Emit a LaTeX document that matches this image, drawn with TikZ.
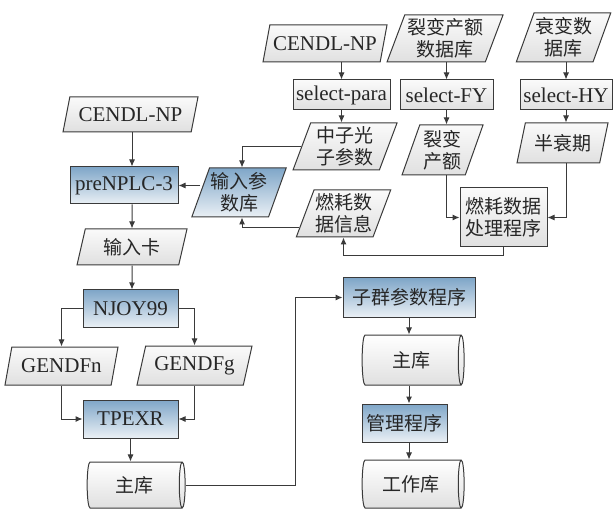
\documentclass[tikz,border=0pt]{standalone}
\usepackage{fontspec}
\setmainfont{Liberation Serif}
\newfontfamily\cjk{Noto Sans CJK SC}
\usetikzlibrary{shapes.geometric,arrows.meta,calc}
\definecolor{linec}{HTML}{3A3A3A}
\definecolor{grayt}{HTML}{FAFAFA}
\definecolor{grayb}{HTML}{E0E0E0}
\definecolor{bluet}{HTML}{7FA6C8}
\definecolor{blueb}{HTML}{EAF0F5}
\tikzset{
  base/.style={draw=linec,line width=1pt,inner sep=1pt,align=center,text=black!85,font=\fontsize{21}{22}\selectfont},
  cn/.style={font=\fontsize{19}{22}\selectfont\cjk},
  datbox/.style={base,trapezium,trapezium left angle=67,trapezium right angle=113,trapezium stretches body,top color=grayt,bottom color=grayb},
  bluedat/.style={datbox,top color=bluet,bottom color=blueb},
  grayproc/.style={base,rectangle,top color=grayt,bottom color=grayb},
  blueproc/.style={base,rectangle,top color=bluet,bottom color=blueb},
  libcyl/.style={base,cylinder,shape aspect=0.3,top color=white,bottom color=grayb},
  arr/.style={draw=linec,line width=1pt,-{Latex[length=7pt,width=6pt]}},
  ln/.style={draw=linec,line width=1pt}
}
\begin{document}
\begin{tikzpicture}[x=1pt,y=-1pt]
\useasboundingbox (0,0) rectangle (615,510);
\node[datbox,minimum width=135,minimum height=35] (cendlL) at (130.5,114.5) {CENDL-NP};
\node[blueproc,minimum width=108,minimum height=37] (pre) at (124,185.5) {preNPLC-3};
\node[bluedat,cn,minimum width=88,minimum height=49] (inp) at (239,192.5) {输入参\\数库};
\node[datbox,cn,minimum width=110,minimum height=36] (card) at (132,247) {输入卡};
\node[blueproc,minimum width=95,minimum height=37] (njoy) at (130.5,308.5) {NJOY99};
\node[datbox,minimum width=113,minimum height=38] (gn) at (61.5,366) {GENDFn};
\node[datbox,minimum width=115,minimum height=39] (gg) at (194.5,365.5) {GENDFg};
\node[blueproc,minimum width=95,minimum height=38] (tpexr) at (130.5,419) {TPEXR};
\node[libcyl,cn,minimum height=98,minimum width=46] (lib1) at (134,485) {主库};
\node[datbox,minimum width=124,minimum height=37] (cendlT) at (325,43.5) {CENDL-NP};
\node[datbox,cn,minimum width=116,minimum height=47] (fydb) at (445,38.5) {裂变产额\\数据库};
\node[datbox,cn,minimum width=93,minimum height=49] (hydb) at (563.5,37.5) {衰变数\\据库};
\node[grayproc,minimum width=97,minimum height=30] (selpara) at (341.5,95) {select-para};
\node[grayproc,minimum width=93,minimum height=30] (selfy) at (446.5,95) {select-FY};
\node[grayproc,minimum width=92,minimum height=30] (selhy) at (566,95) {select-HY};
\node[datbox,cn,minimum width=104,minimum height=47] (npar) at (345,146.5) {中子光\\子参数};
\node[datbox,cn,minimum width=81,minimum height=50] (fy) at (442.5,150) {裂变\\产额};
\node[datbox,cn,minimum width=91,minimum height=40] (hl) at (562.5,143) {半衰期};
\node[datbox,cn,minimum width=93,minimum height=47] (bui) at (343.5,213.5) {燃耗数\\据信息};
\node[grayproc,cn,minimum width=87,minimum height=59] (burn) at (503.5,217.5) {燃耗数据\\处理程序};
\node[blueproc,cn,minimum width=132,minimum height=39] (sub) at (409,297.5) {子群参数程序};
\node[libcyl,cn,minimum height=102,minimum width=50] (lib2) at (411,360) {主库};
\node[blueproc,cn,minimum width=85,minimum height=38] (mgr) at (404.5,423) {管理程序};
\node[libcyl,cn,minimum height=102,minimum width=48] (work) at (411,484) {工作库};
\draw[arr] (card |- cendlL.south) -- (card |- pre.north);
\draw[arr] (card |- pre.south) -- (card.north);
\draw[arr] (inp.west |- pre.east) -- (pre.east);
\draw[arr] (card.south) -- (card |- njoy.north);
\draw[arr] (njoy.west) -| (gn.north);\draw[arr] (njoy.east) -| (gg.north);
\draw[arr] (gn.south) |- (tpexr.west);\draw[arr] (gg.south) |- (tpexr.east);
\draw[arr] (tpexr.south) -- (tpexr |- lib1.north);
\draw[arr] (lib1.east) -- ++(110,0) |- (sub.west);
\draw[arr] (sub.south) -- (sub |- lib2.north);
\draw[arr] (sub |- lib2.south) -- (sub |- mgr.north);
\draw[arr] (sub |- mgr.south) -- (sub |- work.north);
\draw[arr] (selpara |- cendlT.south) -- (selpara.north);
\draw[arr] (selpara.south) -- (selpara |- npar.north);
\draw[arr] (selfy |- fydb.south) -- (selfy.north);
\draw[arr] (selfy.south) -- (selfy |- fy.north);
\draw[arr] (selhy |- hydb.south) -- (selhy.north);
\draw[arr] (selhy.south) -- (selhy |- hl.north);
\draw[arr] (selfy |- fy.south) |- (burn.west);
\draw[arr] (selhy |- hl.south) |- (burn.east);
\draw[arr] (burn.south) -- ++(0,8) -| (bui.south);
\draw[arr] (npar.west) -| ([xshift=3pt]inp.north);
\draw[arr] ($(bui.bottom left corner)!0.2!(bui.top left corner)$) -| ([xshift=3pt]inp.south);
\end{tikzpicture}
\end{document}
